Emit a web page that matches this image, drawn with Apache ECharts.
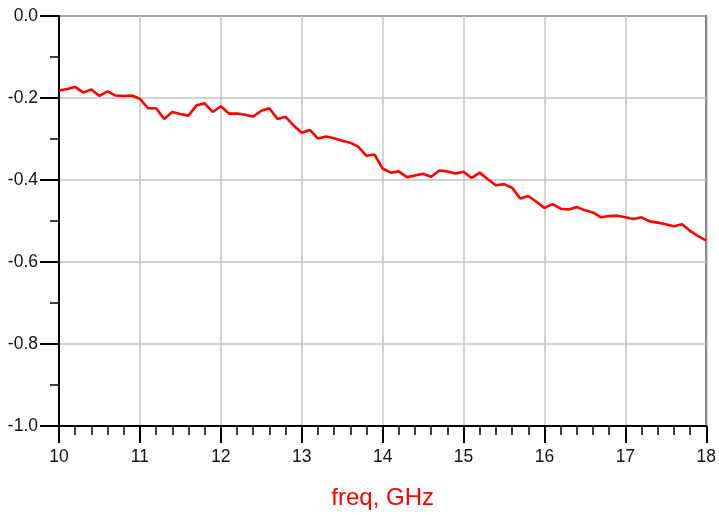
<!DOCTYPE html>
<html>
<head>
<meta charset="utf-8">
<script src="https://cdn.jsdelivr.net/npm/echarts@6/dist/echarts.min.js"></script>
<style>
html, body { margin: 0; padding: 0; background: #fff; }
#main { width: 719px; height: 515px; }
</style>
</head>
<body>
<div id="main"></div>
<script>
// freq in GHz, step 0.1
var freqs = [10.0,10.1,10.2,10.3,10.4,10.5,10.6,10.7,10.8,10.9,
	11.0,11.1,11.2,11.3,11.4,11.5,11.6,11.7,11.8,11.9,
	12.0,12.1,12.2,12.3,12.4,12.5,12.6,12.7,12.8,12.9,
	13.0,13.1,13.2,13.3,13.4,13.5,13.6,13.7,13.8,13.9,
	14.0,14.1,14.2,14.3,14.4,14.5,14.6,14.7,14.8,14.9,
	15.0,15.1,15.2,15.3,15.4,15.5,15.6,15.7,15.8,15.9,
	16.0,16.1,16.2,16.3,16.4,16.5,16.6,16.7,16.8,16.9,
	17.0,17.1,17.2,17.3,17.4,17.5,17.6,17.7,17.8,17.9,18.0];

var values = [-0.182,-0.178,-0.173,-0.187,-0.179,-0.195,-0.184,-0.194,-0.195,-0.194,
	-0.202,-0.225,-0.225,-0.251,-0.234,-0.239,-0.243,-0.218,-0.213,-0.234,
	-0.220,-0.238,-0.238,-0.241,-0.245,-0.231,-0.225,-0.251,-0.246,-0.267,
	-0.285,-0.278,-0.299,-0.294,-0.298,-0.304,-0.309,-0.319,-0.341,-0.338,
	-0.372,-0.382,-0.379,-0.393,-0.389,-0.385,-0.392,-0.377,-0.379,-0.384,
	-0.380,-0.395,-0.382,-0.398,-0.413,-0.410,-0.419,-0.445,-0.439,-0.453,
	-0.468,-0.459,-0.470,-0.472,-0.466,-0.474,-0.479,-0.491,-0.488,-0.487,
	-0.491,-0.495,-0.491,-0.501,-0.504,-0.508,-0.513,-0.508,-0.524,-0.537,-0.548];

var xRange = [10, 18];
var yRange = [-1.0, 0.0];

var chart = {
	init: function(){
		var myChart = echarts.init(document.getElementById('main'));
		myChart.setOption(chart.getOption());
	},
	getOption: function(){
		var pts = [];
		for (var i = 0; i < freqs.length; i++) {
			pts.push([freqs[i], values[i]]);
		}
		var labelStyle = { color: '#111', fontSize: 17.5, fontFamily: 'Liberation Sans' };
		return {
			animation: false,
			backgroundColor: '#fff',
			grid: {
				left: 59, right: 12, top: 16, bottom: 86,
				show: true, borderColor: '#000', borderWidth: 1.5
			},
			xAxis: {
				type: 'value',
				min: xRange[0], max: xRange[1], interval: 1,
				name: 'freq, GHz',
				nameLocation: 'middle',
				nameGap: 60,
				nameTextStyle: { color: '#ff0000', fontSize: 24, fontFamily: 'Liberation Sans' },
				axisLine: { show: true, onZero: false, lineStyle: { color: '#000', width: 2 } },
				axisTick: { show: true, inside: false, length: 17, lineStyle: { color: '#000', width: 2 } },
				minorTick: { show: true, splitNumber: 5, length: 9, lineStyle: { color: '#000', width: 1.5 } },
				axisLabel: Object.assign({ margin: 22 }, labelStyle),
				splitLine: { show: true, lineStyle: { color: '#c4c4c4', width: 1.5 } }
			},
			yAxis: {
				type: 'value',
				min: yRange[0], max: yRange[1], interval: 0.2,
				axisLine: { show: true, onZero: false, lineStyle: { color: '#000', width: 2 } },
				axisTick: { show: true, inside: false, length: 19, lineStyle: { color: '#000', width: 2 } },
				minorTick: { show: true, splitNumber: 2, length: 9, lineStyle: { color: '#000', width: 1.5 } },
				axisLabel: Object.assign({
					margin: 21,
					formatter: function(v){ return v.toFixed(1); }
				}, labelStyle),
				splitLine: { show: true, lineStyle: { color: '#c4c4c4', width: 1.5 } }
			},
			series: [{
				type: 'line',
				data: pts,
				showSymbol: false,
				lineStyle: { color: '#ff0000', width: 2.6 },
				itemStyle: { color: '#ff0000' }
			}]
		};
	}
};

chart.init();
</script>
</body>
</html>
